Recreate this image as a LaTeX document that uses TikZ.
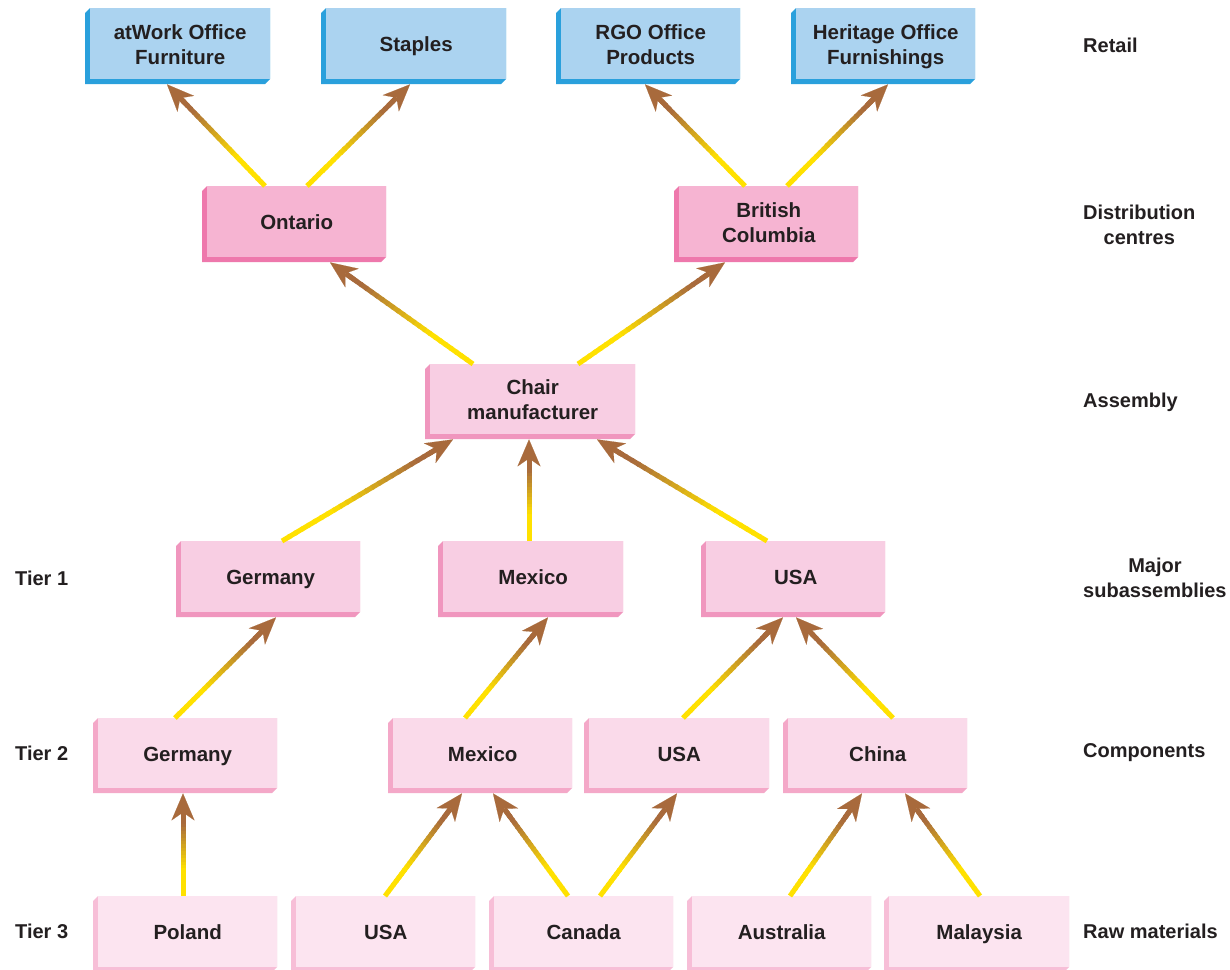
\documentclass[tikz,border=0pt]{standalone}
\usepackage{fontspec}
\setmainfont{Liberation Sans}
\usetikzlibrary{calc,arrows.meta}
\definecolor{txt}{HTML}{231F20}
\definecolor{retface}{HTML}{ABD3F0}
\definecolor{retedge}{HTML}{2AA0DC}
\definecolor{disface}{HTML}{F6B4D2}
\definecolor{disedge}{HTML}{EE78AC}
\definecolor{asmface}{HTML}{F8CEE3}
\definecolor{asmedge}{HTML}{F096BE}
\definecolor{tbbface}{HTML}{FADAEA}
\definecolor{tbbedge}{HTML}{F4A8C8}
\definecolor{tccface}{HTML}{FCE4F0}
\definecolor{tccedge}{HTML}{F7BED7}
\definecolor{arrbrown}{RGB}{168,106,60}
\definecolor{arryellow}{RGB}{255,225,0}
\tikzset{
  boxtext/.style={inner sep=0pt, align=center, text=txt, text height=17.7pt, text depth=1.3pt, font=\bfseries\fontsize{20.5}{25}\selectfont},
  twoline/.style={text height=42.7pt},
  oneline/.style={},
  sidelabel/.style={anchor=west, inner sep=0pt, align=center, text=txt, font=\bfseries\fontsize{20}{25}\selectfont},
  arrowline/.style={line width=5pt},
  arrowtip/.style={line width=5pt, arrbrown, -{Stealth[length=27pt,width=23pt,inset=8pt,line width=0.1pt]}},
}
\newcommand{\cbox}[8]{%
  \fill[#6edge] (#2,#3+5) -- (#2+5,#3) -- (#4,#3) -- (#4,#5-5) -- (#4-5,#5) -- (#2,#5) -- cycle;
  \pgfmathsetmacro\bw{#4-#2-5}\pgfmathsetmacro\bh{#5-#3-5}%
  \node[boxtext, #8, fill=#6face, minimum width=\bw pt, minimum height=\bh pt, anchor=north west] (#1) at (#2+5,#3) {#7};
}
\newcommand{\link}[4]{%
  \coordinate (lt) at ($(#1.north west)+(#2,0)$);
  \coordinate (lh) at ($(#3.south west)+(#4,5)$);
  \coordinate (lb) at ($(lh)!20pt!(lt)$);
  \foreach \i in {0,...,23} {
    \pgfmathsetmacro\ta{\i/24}
    \pgfmathsetmacro\tb{min(1,(\i+1.3)/24)}
    \pgfmathsetmacro\pc{max(0,min(100,(\ta-0.3)/0.55*100))}
    \draw[arrowline, arrbrown!\pc!arryellow] ($(lt)!\ta!(lb)$) -- ($(lt)!\tb!(lb)$);
  }
  \draw[arrowtip] ($(lh)!30pt!(lt)$) -- (lh);
}
\begin{document}
\begin{tikzpicture}[x=1pt,y=-1pt]
\useasboundingbox (0,0) rectangle (1230,969);
\fill[white] (0,0) rectangle (1230,969);
% retail
\cbox{aw}{85}{8}{270}{84}{ret}{atWork Office\\Furniture}{twoline}
\cbox{st}{321}{8}{506}{84}{ret}{Staples}{oneline}
\cbox{rgo}{556}{8}{740}{84}{ret}{RGO Office\\Products}{twoline}
\cbox{her}{791}{8}{975}{84}{ret}{Heritage Office\\Furnishings}{twoline}
% distribution
\cbox{ont}{202}{186}{386}{262}{dis}{Ontario}{oneline}
\cbox{bc}{674}{186}{858}{262}{dis}{British\\Columbia}{twoline}
% assembly
\cbox{chair}{425}{364}{635}{439}{asm}{Chair\\manufacturer}{twoline}
% tier 1
\cbox{ga}{176}{541}{360}{617}{asm}{Germany}{oneline}
\cbox{ma}{438}{541}{623}{617}{asm}{Mexico}{oneline}
\cbox{ua}{701}{541}{885}{617}{asm}{USA}{oneline}
% tier 2
\cbox{gb}{93}{718}{277}{793}{tbb}{Germany}{oneline}
\cbox{mb}{388}{718}{572}{793}{tbb}{Mexico}{oneline}
\cbox{ub}{584}{718}{769}{793}{tbb}{USA}{oneline}
\cbox{cb}{783}{718}{967}{793}{tbb}{China}{oneline}
% tier 3
\cbox{pol}{93}{896}{277}{972}{tcc}{Poland}{oneline}
\cbox{uc}{291}{896}{475}{972}{tcc}{USA}{oneline}
\cbox{can}{489}{896}{673}{972}{tcc}{Canada}{oneline}
\cbox{aus}{687}{896}{871}{972}{tcc}{Australia}{oneline}
\cbox{mal}{884}{896}{1069}{972}{tcc}{Malaysia}{oneline}
% arrows
\link{ont}{58}{aw}{77}
\link{ont}{100}{st}{84}
\link{bc}{66}{rgo}{84}
\link{bc}{108}{her}{92}
\link{chair}{43}{ont}{123}
\link{chair}{148}{bc}{46}
\link{ga}{101}{chair}{23}
\link{ma}{86}{chair}{99}
\link{ua}{61}{chair}{167}
\link{gb}{77}{ga}{95}
\link{mb}{72}{ma}{105}
\link{ub}{94}{ua}{77}
\link{cb}{105}{ua}{90}
\link{pol}{85}{gb}{85}
\link{uc}{89}{mb}{69}
\link{can}{74}{mb}{100}
\link{can}{106}{ub}{88}
\link{aus}{98}{cb}{74}
\link{mal}{91}{cb}{117}
% side labels
\node[sidelabel] (lretail) at (1083,45) {Retail};
\node[sidelabel] (ldist) at (1083,225) {Distribution\\centres};
\node[sidelabel] (lasm) at (1083,402) {Assembly};
\node[sidelabel] (lmajor) at (1083,578) {Major\\subassemblies};
\node[sidelabel] (lcomp) at (1083,753) {Components};
\node[sidelabel] (lraw) at (1083,931) {Raw materials};
\node[sidelabel] (tone) at (15,578) {Tier 1};
\node[sidelabel] (ttwo) at (15,753) {Tier 2};
\node[sidelabel] (tthree) at (15,931) {Tier 3};
\end{tikzpicture}
\end{document}
